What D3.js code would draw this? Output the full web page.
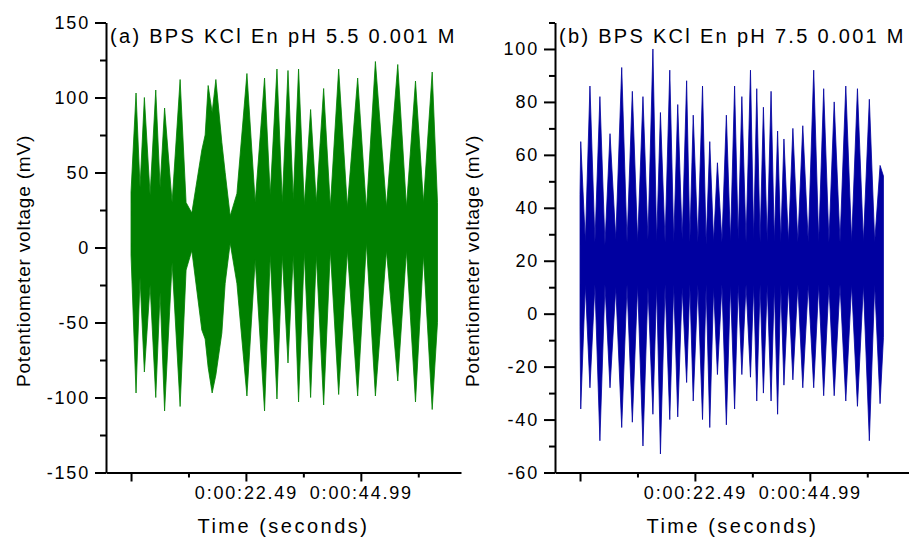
<!DOCTYPE html>
<html>
<head>
<meta charset="utf-8">
<script src="https://cdn.jsdelivr.net/npm/d3@7"></script>
<style>
    body { margin: 0; background: #fff; }
    svg { display: block; }
    text { font-family: "Liberation Sans", Arial, sans-serif; fill: #000; }
</style>
</head>
<body>
<svg id="chart" width="909" height="538"></svg>
<script>
// Panel titles and axis text
const titleA = "(a) BPS KCl En pH 5.5 0.001 M";
const titleB = "(b) BPS KCl En pH 7.5 0.001 M";
const yLabel = "Potentiometer voltage (mV)";
const xLabel = "Time (seconds)";

// Time axis ticks (seconds)
const majorTimeTicks = [0, 22.49, 44.99];
const majorTimeLabels = ["", "0:00:22.49", "0:00:44.99"];
const minorTimeTicks = [11.245, 33.735, 56.235];

// Voltage ticks (mV)
const yMajorA = [-150, -100, -50, 0, 50, 100, 150];
const yMinorA = [-125, -75, -25, 25, 75, 125];
const yMajorB = [-60, -40, -20, 0, 20, 40, 60, 80, 100];
const yMinorB = [-50, -30, -10, 10, 30, 50, 70, 90, 110];

// (a) pH 5.5 - signal envelope: time (s), max (mV), min (mV)
const timeA = [0, 0.98, 1.76, 2.61, 3.73, 4.84, 5.69, 6.57, 8.04, 9.61,
    10.78, 11.9, 13.86, 14.51, 15.1, 15.88, 16.61, 17.78, 18.43, 19.41,
    20.73, 22.69, 24.31, 26.14, 27.25, 28.57, 29.61, 30.73, 31.76, 32.8,
    33.92, 35.16, 36.27, 37.71, 39.02, 40.65, 42.35, 44.37, 46.08, 47.84,
    50.0, 52.22, 53.92, 55.69, 57.25, 58.96, 60.0];
const highA = [37, 103, 40, 100, 35, 105, 40, 93, 30, 112,
    30, 23, 65, 75, 108, 90, 112, 70, 50, 21,
    36, 116, 30, 113, 35, 119, 30, 118, 32, 119,
    28, 92, 30, 106, 27, 119, 27, 113, 25, 124,
    27, 122, 27, 111, 30, 117, 30];
const lowA = [-5, -97, -20, -83, -25, -100, -30, -109, -10, -106,
    -15, -2, -55, -61, -80, -97, -85, -57, -24, 3,
    -24, -99, -8, -109, -5, -101, -5, -77, -5, -103,
    -3, -100, -5, -105, -2, -98, -2, -99, 3, -99,
    -2, -89, -2, -103, -5, -108, -50];

// (b) pH 7.5 - signal envelope: time (s), max (mV), min (mV)
const timeB = [0, 0.14, 1.04, 1.94, 2.92, 3.89, 4.88, 5.87, 7.0, 8.16,
    9.2, 10.24, 11.28, 12.32, 13.3, 14.27, 15.0, 15.74, 16.65, 17.57,
    18.35, 19.13, 20.0, 20.87, 21.5, 22.16, 23.07, 23.98, 24.69, 25.4,
    26.15, 26.9, 27.78, 28.65, 29.45, 30.26, 30.97, 31.68, 32.5, 33.37,
    34.0, 34.6, 35.25, 35.9, 36.65, 37.4, 38.04, 38.68, 39.3, 39.92,
    40.8, 41.67, 42.64, 43.61, 44.68, 45.75, 46.73, 47.7, 48.73, 49.76,
    50.9, 52.03, 53.17, 54.31, 55.48, 56.64, 57.69, 58.74, 59.4];
const highB = [45, 65, 27, 86, 27, 82, 26, 68, 28, 93,
    27, 84, 27, 82, 28, 100, 27, 76, 27, 92,
    27, 79, 28, 88, 27, 75, 27, 86, 26, 65,
    27, 57, 27, 75, 27, 86, 28, 82, 27, 92,
    28, 85, 27, 78, 27, 84, 27, 69, 27, 66,
    27, 70, 27, 71, 27, 92, 27, 85, 27, 80,
    27, 86, 27, 85, 27, 81, 27, 56, 52];
const lowB = [-5, -36, 11, -28, 11, -48, 11, -28, 10, -43,
    11, -41, 11, -50, 10, -38, 11, -53, 11, -40,
    11, -39, 10, -26, 11, -33, 11, -40, 11, -43,
    10, -23, 11, -42, 11, -36, 11, -23, 11, -24,
    11, -33, 11, -30, 11, -33, 11, -38, 11, -27,
    11, -25, 11, -28, 11, -28, 11, -31, 11, -31,
    11, -33, 11, -35, 11, -48, 11, -34, -9];

const svg = d3.select("#chart");
const plotTop = 22.5, plotBottom = 472.5, plotWidth = 355;

const panels = [
    { left: 106, title: titleA, time: timeA, high: highA, low: lowA, color: "#008000",
      yDomain: [-150, 150], yMajor: yMajorA, yMinor: yMinorA },
    { left: 555, title: titleB, time: timeB, high: highB, low: lowB, color: "#0000a0",
      yDomain: [-60, 110], yMajor: yMajorB, yMinor: yMinorB }
];

function styleAxis(g, fontSize, spacing) {
    g.selectAll(".domain").attr("stroke", "#000").attr("stroke-width", 2);
    g.selectAll(".tick line").attr("stroke", "#000").attr("stroke-width", 2);
    g.selectAll(".tick text")
        .style("font-family", "'Liberation Sans', Arial, sans-serif")
        .style("font-size", fontSize + "px")
        .style("letter-spacing", spacing + "px")
        .attr("fill", "#000");
}

panels.forEach(p => {
    const x = d3.scaleLinear().domain([-4.9, 64.6]).range([p.left, p.left + plotWidth]);
    const y = d3.scaleLinear().domain(p.yDomain).range([plotBottom, plotTop]);

    // signal band: area between max and min envelope
    const pts = p.time.map((t, i) => ({ t: t, hi: p.high[i], lo: p.low[i] }));
    const area = d3.area()
        .x(d => x(d.t))
        .y0(d => y(d.lo))
        .y1(d => y(d.hi))
        .curve(d3.curveLinear);
    svg.append("path")
        .datum(pts)
        .attr("d", area)
        .attr("fill", p.color)
        .attr("stroke", p.color)
        .attr("stroke-width", 0.8)
        .attr("stroke-linejoin", "miter");

    // Y axis: minor then major ticks (plain hyphen for negatives, as in the original)
    svg.append("g")
        .attr("transform", `translate(${p.left},0)`)
        .call(d3.axisLeft(y).tickValues(p.yMinor).tickSize(6).tickSizeOuter(0).tickFormat(""))
        .call(g => g.select(".domain").remove())
        .call(g => styleAxis(g, 18, 1.8));
    svg.append("g")
        .attr("transform", `translate(${p.left},0)`)
        .call(d3.axisLeft(y).tickValues(p.yMajor).tickSize(11).tickSizeOuter(0).tickPadding(5)
            .tickFormat(d => String(d)))
        .call(g => styleAxis(g, 18, 1.8));

    // X axis
    svg.append("g")
        .attr("transform", `translate(0,${plotBottom})`)
        .call(d3.axisBottom(x).tickValues(minorTimeTicks).tickSize(5).tickSizeOuter(0).tickFormat(""))
        .call(g => g.select(".domain").remove())
        .call(g => styleAxis(g, 18, 1.8));
    svg.append("g")
        .attr("transform", `translate(0,${plotBottom})`)
        .call(d3.axisBottom(x).tickValues(majorTimeTicks).tickSize(9).tickSizeOuter(0).tickPadding(5)
            .tickFormat((d, i) => majorTimeLabels[i]))
        .call(g => styleAxis(g, 18, 1.8));

    // panel title
    svg.append("text")
        .attr("x", p.left + 4)
        .attr("y", 43)
        .style("font-size", "20px")
        .style("letter-spacing", "2.3px")
        .text(p.title);

    // axis titles
    svg.append("text")
        .attr("x", p.left + plotWidth / 2)
        .attr("y", 533)
        .attr("text-anchor", "middle")
        .style("font-size", "20px")
        .style("letter-spacing", "2.5px")
        .text(xLabel);

    svg.append("text")
        .attr("transform", `translate(${p.left - 76},261) rotate(-90)`)
        .attr("text-anchor", "middle")
        .style("font-size", "19px")
        .style("letter-spacing", "0.8px")
        .text(yLabel);
});
</script>
</body>
</html>
